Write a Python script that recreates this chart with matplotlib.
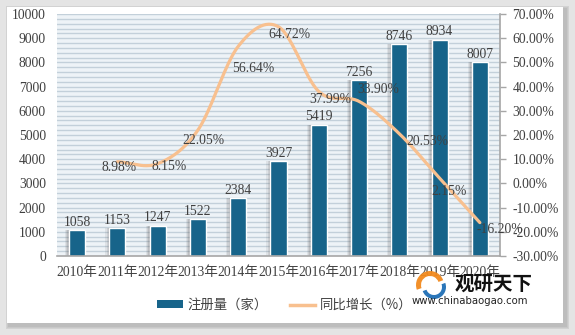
import numpy as np
import matplotlib
matplotlib.use("Agg")
import matplotlib.pyplot as plt
from matplotlib.patches import Rectangle, Wedge
from matplotlib.lines import Line2D
from matplotlib.patches import Patch

years = ["2010年", "2011年", "2012年", "2013年", "2014年", "2015年",
         "2016年", "2017年", "2018年", "2019年", "2020年"]
registrations = [1058, 1153, 1247, 1522, 2384, 3927, 5419, 7256, 8746, 8934, 8007]
growth_years_idx = [1, 2, 3, 4, 5, 6, 7, 8, 9, 10]
growth = [8.98, 8.15, 22.05, 56.64, 64.72, 37.99, 33.90, 20.53, 2.15, -16.20]
growth_labels = ["8.98%", "8.15%", "22.05%", "56.64%", "64.72%", "37.99%",
                 "33.90%", "20.53%", "2.15%", "-16.20%"]
left_ticks = [0, 1000, 2000, 3000, 4000, 5000, 6000, 7000, 8000, 9000, 10000]
right_ticks = [-30, -20, -10, 0, 10, 20, 30, 40, 50, 60, 70]
right_tick_labels = ["-30.00%", "-20.00%", "-10.00%", "0.00%", "10.00%", "20.00%",
                     "30.00%", "40.00%", "50.00%", "60.00%", "70.00%"]

# label offsets in pixels (style only)
lab_off = [(2, -6), (11, -3), (5, -10), (15, -22), (11, -8), (12, -8),
           (19, 12), (28, -8), (9, -13), (20, -7)]

W, H = 575, 335
fig = plt.figure(figsize=(W / 100, H / 100), dpi=100)
fig.patch.set_facecolor("#e4e4e4")

def px_rect(x0, y0, x1, y1, **kw):
    return Rectangle((x0 / W, 1 - y1 / H), (x1 - x0) / W, (y1 - y0) / H,
                     transform=fig.transFigure, **kw)

for i, c in enumerate(["#d2d2d2", "#c8c8c8", "#bdbdbd"]):
    fig.patches.append(px_rect(6 + i, 6 + i, 569 - i, 329 - i, facecolor=c, edgecolor="none", zorder=0))
fig.patches.append(px_rect(7, 7, 563, 323, facecolor="white", edgecolor="none", zorder=1))

txt_col = "#404040"
num_font = ["Liberation Serif", "Noto Sans CJK SC"]
fs = 9.8

ax = fig.add_axes([57 / W, 1 - 256 / H, (500 - 57) / W, (256 - 14) / H])
ax.set_zorder(2)
ax.set_facecolor("#eef3f7")
x = np.arange(len(years))
ax.set_xlim(-0.5, len(years) - 0.5)
ax.set_ylim(0, 10000)

for yv in np.arange(200, 10001, 200):
    ax.axhline(yv, color="#c3d0da", lw=1.0, zorder=0.5)

for k, a in enumerate([0.10, 0.12, 0.15]):
    off = 0.10 - k * 0.03
    ax.bar(x - off, registrations, width=0.40, color="#555555", alpha=a,
           edgecolor="none", zorder=1)
bars = ax.bar(x, registrations, width=0.40, color="#17648a", edgecolor="white",
              linewidth=1.0, zorder=2)
for xi, v in zip(x, registrations):
    ax.annotate(str(v), (xi, v), xytext=(0, 1), textcoords="offset points",
                ha="center", va="bottom", fontsize=fs, color=txt_col,
                family=num_font, zorder=6)

ax.set_yticks(left_ticks)
ax.set_yticklabels([str(t) for t in left_ticks], family=num_font, fontsize=fs, color=txt_col)
ax.set_xticks(x)
ax.set_xticklabels(years, family=num_font, fontsize=fs, color=txt_col)
ax.tick_params(axis="y", length=0, pad=8)
ax.tick_params(axis="x", length=0, pad=7)
for s in ["left", "top", "right"]:
    ax.spines[s].set_visible(False)
ax.spines["bottom"].set_color("#a6a6a6")
ax.spines["bottom"].set_linewidth(1.2)
ax.spines["bottom"].set_zorder(5)

ax2 = ax.twinx()
ax2.set_ylim(-30, 70)
ax2.set_xlim(-0.5, len(years) - 0.5)

# smooth (Catmull-Rom) rendering of the line through the data points
px = np.array(growth_years_idx, dtype=float)
py = np.array(growth, dtype=float)
P = np.column_stack([px, py])
Pext = np.vstack([P[0] - (P[1] - P[0]), P, P[-1] + (P[-1] - P[-2])])
curve = []
for i in range(1, len(Pext) - 2):
    p0, p1, p2, p3 = Pext[i - 1], Pext[i], Pext[i + 1], Pext[i + 2]
    m1 = (p2 - p0) / 2
    m2 = (p3 - p1) / 2
    t = np.linspace(0, 1, 30)[:, None]
    h00 = 2 * t**3 - 3 * t**2 + 1
    h10 = t**3 - 2 * t**2 + t
    h01 = -2 * t**3 + 3 * t**2
    h11 = t**3 - t**2
    curve.append(h00 * p1 + h10 * m1 + h01 * p2 + h11 * m2)
curve = np.vstack(curve)
ax2.plot(curve[:, 0], curve[:, 1], color="#f8c08f", lw=2.3, zorder=3,
         solid_capstyle="round")
for xi, v, lab, off in zip(growth_years_idx, growth, growth_labels, lab_off):
    ax2.annotate(lab, (xi, v), xytext=off, textcoords="offset pixels",
                 ha="center", va="center", fontsize=fs, color=txt_col,
                 family=num_font, zorder=6)

ax2.set_yticks(right_ticks)
ax2.set_yticklabels(right_tick_labels, family=num_font, fontsize=fs, color=txt_col)
ax2.tick_params(axis="y", length=4, width=1, color="#a6a6a6", pad=5, direction="out")
for s in ["left", "top", "bottom"]:
    ax2.spines[s].set_visible(False)
ax2.spines["right"].set_color("#a6a6a6")
ax2.spines["right"].set_linewidth(1.2)

handles = [Patch(facecolor="#17648a", edgecolor="none"),
           Line2D([0], [0], color="#f8c08f", lw=2.5)]
leg = fig.legend(handles, ["注册量（家）", "同比增长（%）"], loc="center",
                 bbox_to_anchor=(285 / W, 1 - 305 / H), ncol=2, frameon=False,
                 prop={"family": ["Noto Sans CJK SC", "DejaVu Sans"], "size": 9.6},
                 handlelength=1.9, handleheight=0.55, columnspacing=1.6,
                 handletextpad=0.4)
for t in leg.get_texts():
    t.set_color(txt_col)

# watermark
fig.patches.append(Wedge((430, H - 285), 14, 20, 200, width=5, facecolor="#f28a1e",
                         edgecolor="none", transform=None, zorder=8, alpha=0.95))
fig.patches.append(Wedge((434, H - 287), 12, 200, 380, width=4, facecolor="#1f6fb5",
                         edgecolor="none", transform=None, zorder=8, alpha=0.95))
fig.text(494 / W, 1 - 284 / H, "观研天下", ha="center", va="center", fontsize=14,
         fontweight="bold", family=["Noto Sans CJK SC"], color="#111111", zorder=9)
fig.text(470 / W, 1 - 301 / H, "www.chinabaogao.com", ha="center", va="center",
         fontsize=7.3, family=["DejaVu Sans"], color="#222222", zorder=9)

fig.savefig("out.png", dpi=100, facecolor=fig.get_facecolor())
